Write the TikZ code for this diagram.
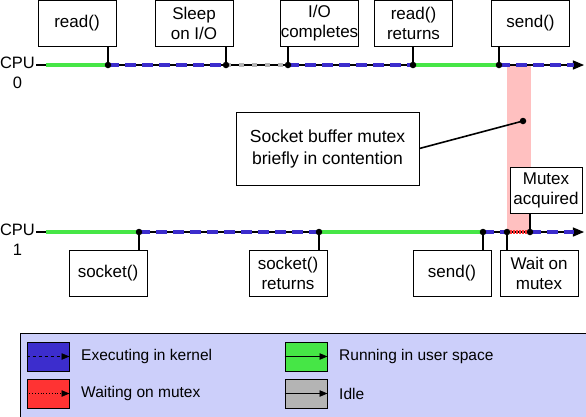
\documentclass[tikz,border=0pt]{standalone}
\usepackage{fontspec}
\setmainfont{Liberation Sans}
\usetikzlibrary{arrows}

\definecolor{kernelblue}{RGB}{60,45,205}
\definecolor{usergreen}{RGB}{70,230,70}
\definecolor{mutexred}{RGB}{255,51,51}
\definecolor{idlegrey}{RGB}{180,180,180}
\definecolor{contpink}{RGB}{255,192,192}
\definecolor{legendbg}{RGB}{204,207,250}

\begin{document}
\begin{tikzpicture}[x=1pt,y=-1pt,>=latex',
  box node/.style={draw,line width=0.8pt,fill=white,align=center,inner sep=0pt,
    minimum width=78pt,minimum height=46pt,font=\fontsize{17}{20}\selectfont},
  cpu node/.style={align=center,inner sep=0pt,font=\fontsize{16.5}{20}\selectfont},
  key node/.style={anchor=west,inner sep=0pt,font=\fontsize{15.5}{18}\selectfont},
  swatch/.style={draw,line width=0.8pt,minimum width=42pt,minimum height=29pt,inner sep=0pt},
  base line/.style={line width=1.6pt,-triangle 45},
  user/.style={usergreen,line width=4.5pt},
  kernel/.style={kernelblue,line width=4.5pt,dash pattern=on 11pt off 6pt},
  idle/.style={idlegrey,line width=4.5pt,dash pattern=on 5pt off 8pt},
  waiting/.style={mutexred,line width=4.5pt,dash pattern=on 2pt off 1pt},
  tick/.style={line width=1.6pt},
  event/.style={circle,fill=black,inner sep=0pt,minimum size=6.5pt}]

  \useasboundingbox (0,0) rectangle (586,416);

  % contention band
  \fill[contpink] (507,66) rectangle (531,232);

  % CPU 0 timeline
  \node[cpu node] (cpu0) at (17.5,73) {CPU\\0};
  \coordinate (a0) at (36,65);
  \coordinate (a1) at (108,65);
  \coordinate (a2) at (226,65);
  \coordinate (a3) at (288,65);
  \coordinate (a4) at (413,65);
  \coordinate (a5) at (499,65);
  \coordinate (aE) at (584,65);
  \draw[base line] (a0) -- (aE);
  \draw[user] (46,65) -- (a1);
  \draw[kernel] (a1) -- (a2);
  \draw[idle] (a2) -- (a3);
  \draw[kernel] (a3) -- (a4);
  \draw[user] (a4) -- (a5);
  \draw[kernel] (a5) -- (574,65);

  % CPU 1 timeline
  \node[cpu node] (cpu1) at (17.5,240) {CPU\\1};
  \coordinate (b0) at (36,232);
  \coordinate (b1) at (139,232);
  \coordinate (b2) at (319,232);
  \coordinate (b3) at (483,232);
  \coordinate (b4) at (507,232);
  \coordinate (b5) at (530,232);
  \coordinate (bE) at (584,232);
  \draw[base line] (b0) -- (bE);
  \draw[user] (46,232) -- (b1);
  \draw[kernel] (b1) -- (b2);
  \draw[user] (b2) -- (b3);
  \draw[kernel] (b3) -- (b4);
  \draw[waiting] (b4) -- (b5);
  \draw[kernel] (b5) -- (574,232);

  % event labels
  \node[box node] (read)     at (77,23)    {read()};
  \node[box node] (sleep)    at (194,23)   {Sleep\\on I/O};
  \node[box node] (iodone)   at (319.5,23) {I/O\\completes};
  \node[box node] (readret)  at (413.5,23) {read()\\returns};
  \node[box node] (send0)    at (530.5,23) {send()};
  \node[box node] (socket)   at (108,273)  {socket()};
  \node[box node] (sockret)  at (288,273)  {socket()\\returns};
  \node[box node] (send1)    at (452,273)  {send()};
  \node[box node] (waitmtx)  at (539,273)  {Wait on\\mutex};
  \node[box node,minimum width=72pt] (acquired) at (546,190) {Mutex\\acquired};
  \node[box node,minimum width=183pt,minimum height=73pt,
    font=\fontsize{17.5}{22}\selectfont] (note) at (327.5,148.5)
    {Socket buffer mutex\\briefly in contention};

  \draw[tick] (read.south -| a1) -- (a1);
  \draw[tick] (sleep.south -| a2) -- (a2);
  \draw[tick] (iodone.south -| a3) -- (a3);
  \draw[tick] (readret.south -| a4) -- (a4);
  \draw[tick] (send0.south -| a5) -- (a5);
  \draw[tick] (socket.north -| b1) -- (b1);
  \draw[tick] (sockret.north -| b2) -- (b2);
  \draw[tick] (send1.north -| b3) -- (b3);
  \draw[tick] (waitmtx.north -| b4) -- (b4);
  \draw[tick] (acquired.south -| b5) -- (b5);

  \coordinate (band) at (523,121);
  \draw[tick] (note.east) -- (band);

  \foreach \e in {a1,a2,a3,a4,a5,b1,b2,b3,b4,b5,band}
    \node[event] at (\e) {};

  % legend
  \draw[fill=legendbg,line width=0.8pt] (20,333) rectangle (600,430);
  \node[swatch,fill=kernelblue] (kkey) at (48,356.5) {};
  \node[swatch,fill=mutexred]   (wkey) at (48,393.5) {};
  \node[swatch,fill=usergreen]  (ukey) at (306,356.5) {};
  \node[swatch,fill=idlegrey]   (ikey) at (306,393.5) {};
  \draw[-triangle 45,dashed,line width=0.8pt] (kkey.west) -- (kkey.east);
  \draw[-triangle 45,dotted,line width=0.8pt] (wkey.west) -- (wkey.east);
  \draw[-triangle 45,line width=0.8pt] (ukey.west) -- (ukey.east);
  \draw[-triangle 45,line width=0.8pt] (ikey.west) -- (ikey.east);
  \node[key node] (kt) at (81,356.5) {Executing in kernel};
  \node[key node] (wt) at (81,393.5) {Waiting on mutex};
  \node[key node] (ut) at (339,356.5) {Running in user space};
  \node[key node] (it) at (339,393.5) {Idle};
\end{tikzpicture}
\end{document}
